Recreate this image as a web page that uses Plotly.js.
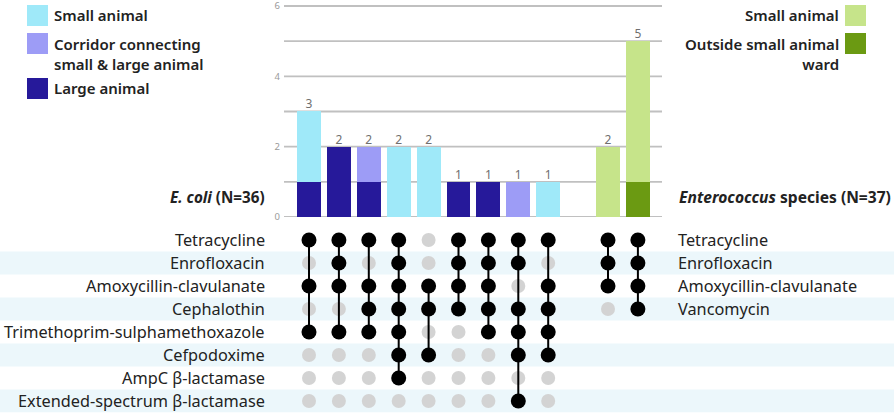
<!DOCTYPE html>
<html>
<head>
<meta charset="utf-8">
<script src="https://cdn.plot.ly/plotly-3.0.1.min.js"></script>
<style>html,body{margin:0;padding:0;background:#fff;}#chart{width:894px;height:419px;}</style>
</head>
<body>
<div id="chart"></div>
<script>
// ---------- DATA ----------
const ecoliDrugs = ['Tetracycline','Enrofloxacin','Amoxycillin-clavulanate','Cephalothin',
  'Trimethoprim-sulphamethoxazole','Cefpodoxime','AmpC β-lactamase','Extended-spectrum β-lactamase'];
const entDrugs = ['Tetracycline','Enrofloxacin','Amoxycillin-clavulanate','Vancomycin'];

const ecoliLarge    = [1,2,1,0,0,1,1,0,0];
const ecoliCorridor = [0,0,1,0,0,0,0,1,0];
const ecoliSmall    = [2,0,0,2,2,0,0,0,1];
const entOutside    = [0,1];
const entSmall      = [2,4];

// membership (rows = drugs in order above), one list per bar
const ecoliSets = [
  [1,0,1,0,1,0,0,0],
  [1,1,1,0,1,0,0,0],
  [1,0,1,1,1,0,0,0],
  [1,1,1,1,1,1,1,0],
  [0,0,1,1,0,1,0,0],
  [1,1,1,1,0,0,0,0],
  [1,1,1,1,1,0,0,0],
  [1,1,0,1,1,1,0,1],
  [1,0,1,1,1,1,0,0]
];
const entSets = [
  [1,1,1,0],
  [1,1,1,1]
];
const yLabelTicks = [0,2,4,6];
const yGridValues = [0,1,2,3,4,5,6];

// ---------- LAYOUT HELPERS ----------
const W = 894, H = 419;
const U = 29.9, X0 = 309;             // px per column, px of first column
const Y0 = 217, UY = 35.17;           // px of zero, px per unit
const YMAX = 6.08;
const ecoliX = ecoliSets.map((_, i) => i);
const entX = entSets.map((_, i) => ecoliSets.length + 1 + i);
const px = v => v / W, py = v => (H - v) / H;

const C = {
  small: '#9fe9f9', corridor: '#9d9cf6', large: '#26199a',
  entSmall: '#c6e48a', entOut: '#6b9a12',
  grid: '#c0c0c0', dotOff: '#d3d3d3', dotOn: '#000000', stripe: '#ecf7fb', text: '#222'
};
const FONT = 'Noto Sans, Open Sans, sans-serif';
const LBL = 16.3;

const traces = [];
function bar(x, y, color, name) {
  traces.push({type:'bar', x:x, y:y, marker:{color:color, line:{width:0}}, width:0.8,
    name:name, showlegend:false, hoverinfo:'skip', xaxis:'x', yaxis:'y'});
}
bar(ecoliX, ecoliLarge, C.large, 'Large animal');
bar(ecoliX, ecoliCorridor, C.corridor, 'Corridor');
bar(ecoliX, ecoliSmall, C.small, 'Small animal');
bar(entX, entOutside, C.entOut, 'Outside small animal ward');
bar(entX, entSmall, C.entSmall, 'Small animal');

const ecoliTot = ecoliX.map(i => ecoliLarge[i] + ecoliCorridor[i] + ecoliSmall[i]);
const entTot = entSets.map((_, i) => entOutside[i] + entSmall[i]);
traces.push({type:'scatter', mode:'text', x:ecoliX.concat(entX), y:ecoliTot.concat(entTot),
  text:ecoliTot.concat(entTot).map(String), textposition:'top center',
  textfont:{family:FONT, size:12, color:'#6f6f6f'}, showlegend:false, hoverinfo:'skip',
  xaxis:'x', yaxis:'y', cliponaxis:false});

// matrix
function matrix(xs, sets, nRows) {
  const gx = [], gy = [], bx = [], by = [], lx = [], ly = [];
  sets.forEach((s, c) => {
    const on = [];
    for (let r = 0; r < nRows; r++) {
      if (s[r]) { bx.push(xs[c]); by.push(r); on.push(r); }
      else { gx.push(xs[c]); gy.push(r); }
    }
    if (on.length > 1) {
      lx.push(xs[c], xs[c], null);
      ly.push(Math.min(...on), Math.max(...on), null);
    }
  });
  traces.push({type:'scatter', mode:'markers', x:gx, y:gy, marker:{size:14, color:C.dotOff},
    xaxis:'x2', yaxis:'y2', showlegend:false, hoverinfo:'skip'});
  traces.push({type:'scatter', mode:'lines', x:lx, y:ly, line:{color:'#000', width:2},
    xaxis:'x2', yaxis:'y2', showlegend:false, hoverinfo:'skip'});
  traces.push({type:'scatter', mode:'markers', x:bx, y:by, marker:{size:15, color:C.dotOn},
    xaxis:'x2', yaxis:'y2', showlegend:false, hoverinfo:'skip'});
}
matrix(ecoliX, ecoliSets, ecoliDrugs.length);
matrix(entX, entSets, entDrugs.length);

const shapes = [];
// horizontal gridlines of the bar panel
yGridValues.forEach(v => shapes.push({type:'line', xref:'x domain', yref:'y', x0:0, x1:1, y0:v, y1:v,
  line:{color:C.grid, width:1.8}, layer:'below'}));
// stripes
ecoliDrugs.forEach((_, r) => {
  if (r % 2 === 1) shapes.push({type:'rect', xref:'paper', yref:'y2', x0:0, x1:1,
    y0:r - 0.5, y1:r + 0.5, fillcolor:C.stripe, line:{width:0}, layer:'below'});
});

const annotations = [];
ecoliDrugs.forEach((d, r) => annotations.push({xref:'paper', yref:'y2', x:px(267), y:r,
  xanchor:'right', yanchor:'middle', text:d, showarrow:false, font:{family:FONT, size:LBL, color:C.text}}));
entDrugs.forEach((d, r) => annotations.push({xref:'paper', yref:'y2', x:px(676), y:r,
  xanchor:'left', yanchor:'middle', text:d, showarrow:false, font:{family:FONT, size:LBL, color:C.text}}));

annotations.push({xref:'paper', yref:'paper', x:px(267), y:py(197), xanchor:'right', yanchor:'middle',
  text:'<b><i>E. coli</i> (N=36)</b>', showarrow:false, font:{family:FONT, size:15.2, color:C.text}});
annotations.push({xref:'paper', yref:'paper', x:px(677), y:py(197), xanchor:'left', yanchor:'middle',
  text:'<b><i>Enterococcus</i> species (N=37)</b>', showarrow:false, font:{family:FONT, size:15.6, color:C.text}});

// legends
function legendItem(x0, y0, y1, color, label, ty, side) {
  shapes.push({type:'rect', xref:'paper', yref:'paper', x0:px(x0), x1:px(x0 + 21),
    y0:py(y1), y1:py(y0), fillcolor:color, line:{width:0}});
  annotations.push({xref:'paper', yref:'paper', x: side === 'left' ? px(x0 + 25) : px(x0 - 4),
    y:py(ty), xanchor: side === 'left' ? 'left' : 'right', yanchor:'top', align: side,
    text:label, showarrow:false, font:{family:FONT, size:15, color:C.text, weight:600}});
}
legendItem(27, 5, 26, C.small, 'Small animal', 3, 'left');
legendItem(27, 33, 54, C.corridor, 'Corridor connecting<br>small &amp; large animal', 32, 'left');
legendItem(27, 78, 99, C.large, 'Large animal', 76, 'left');
legendItem(845, 5, 26, C.entSmall, 'Small animal', 3, 'right');
legendItem(845, 33, 54, C.entOut, 'Outside small animal<br>ward', 32, 'right');

const layout = {
  width:W, height:H, margin:{l:0, r:0, t:0, b:0}, paper_bgcolor:'#fff', plot_bgcolor:'rgba(0,0,0,0)',
  barmode:'stack', showlegend:false, font:{family:FONT},
  xaxis:{domain:[px(284), px(662)], range:[(284 - X0) / U, (662 - X0) / U], showgrid:false,
    zeroline:false, showticklabels:false, ticks:'', fixedrange:true},
  yaxis:{domain:[py(Y0), py(Y0 - YMAX * UY)], range:[0, YMAX], tickmode:'array', tickvals:yLabelTicks,
    showgrid:false, zeroline:false, ticklabeloverflow:'allow', ticklabelshift:-1.5,
    ticks:'', ticklabelstandoff:3, tickfont:{family:FONT, size:9.5, color:'#9a9a9a'}, showline:false},
  xaxis2:{domain:[0, 1], range:[-X0 / U, (W - X0) / U], anchor:'y2', showgrid:false, zeroline:false,
    showticklabels:false, ticks:''},
  yaxis2:{domain:[py(412.5), py(228.5)], range:[7.5, -0.5], anchor:'x2', showgrid:false, zeroline:false,
    showticklabels:false, ticks:''},
  shapes:shapes, annotations:annotations
};
Plotly.newPlot('chart', traces, layout, {staticPlot:true, displayModeBar:false});
</script>
</body>
</html>
